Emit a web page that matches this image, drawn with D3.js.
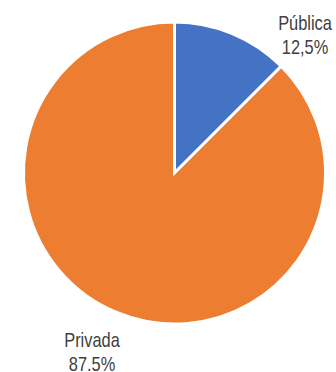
<!DOCTYPE html>
<html><head><meta charset="utf-8">
<script src="https://cdn.jsdelivr.net/npm/d3@7"></script>
<style>body{margin:0;background:#fff}svg{display:block}</style>
</head><body>
<script>
const categories = ["Pública", "Privada"];
const values = [12.5, 87.5];
const valueLabels = ["12,5%", "87.5%"];
const colors = ["#4472C4", "#ED7D31"];

const W = 336, H = 372;
const cx = 174.5, cy = 173, R = 151;
const svg = d3.select("body").append("svg").attr("width", W).attr("height", H);
const g = svg.append("g").attr("transform", `translate(${cx},${cy})`);
const pie = d3.pie().sort(null).value(d => d.v);
const data = pie(categories.map((c, i) => ({c, v: values[i], l: valueLabels[i], col: colors[i]})));
const arc = d3.arc().innerRadius(0).outerRadius(R);
g.selectAll("path").data(data).enter().append("path")
  .attr("d", arc).attr("fill", d => d.data.col)
  .attr("stroke", "#fff").attr("stroke-width", 3).attr("stroke-linejoin", "miter");

const labelPos = [[305, 30], [92, 347]];
const font = "'Liberation Sans','Arial',sans-serif";
const sx = 0.82;
data.forEach((d, i) => {
  const [x, y] = labelPos[i];
  const t = svg.append("text")
    .attr("transform", `translate(${x},${y}) scale(${sx},1)`)
    .attr("text-anchor", "middle").attr("font-family", font).attr("font-size", 20).attr("fill", "#404040");
  t.append("tspan").attr("x", 0).attr("y", 0).text(d.data.c);
  t.append("tspan").attr("x", 0).attr("y", 24).text(d.data.l);
});
</script>
</body></html>
